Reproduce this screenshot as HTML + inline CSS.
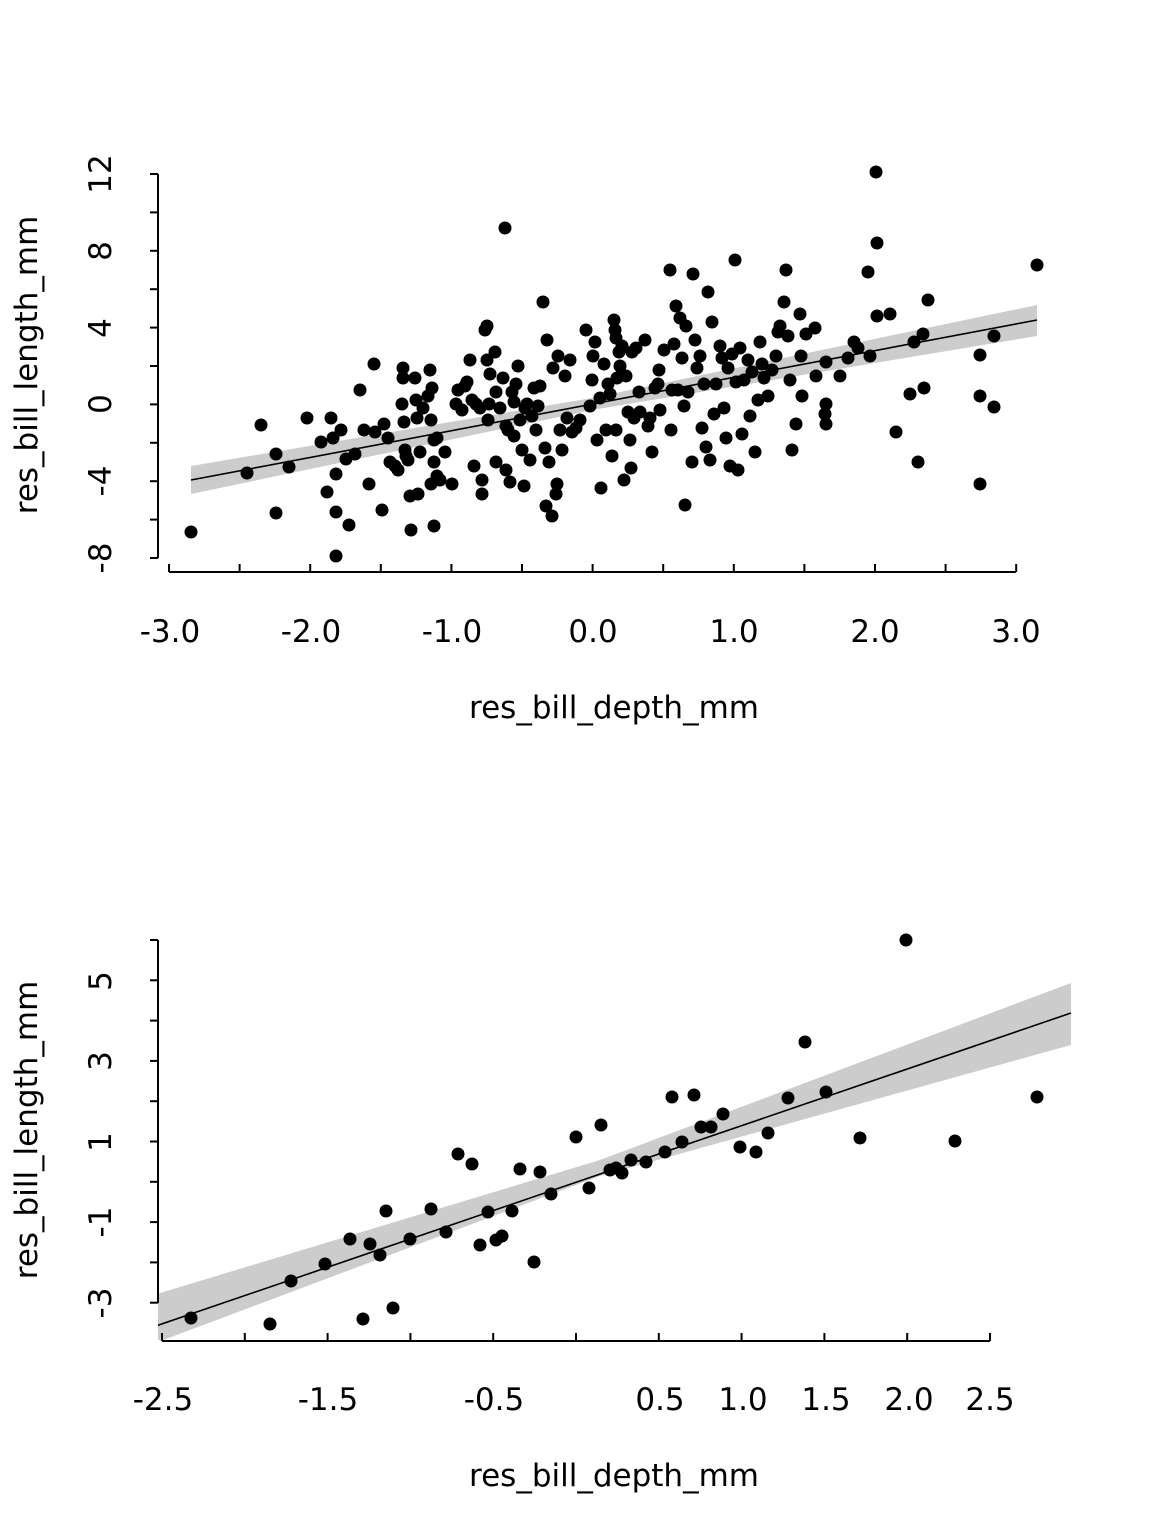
<!DOCTYPE html>
<html><head><meta charset="utf-8"><style>body{margin:0;background:#fff}svg{display:block}</style></head>
<body>
<svg width="1152" height="1536" viewBox="0 0 1152 1536" font-family="DejaVu Sans, sans-serif">
<defs><clipPath id="c2"><rect x="158" y="930" width="920" height="410"/></clipPath></defs>
<polygon points="191,466 592,398 1037,305 1037,336 592,410 191,494" fill="#cccccc"/>
<line x1="191" y1="480" x2="1037" y2="320" stroke="#000" stroke-width="1.6"/>
<g id="top" fill="#000"></g>
<g stroke="#000" stroke-width="2" fill="none">
<line x1="158" y1="174" x2="158" y2="558"/>
<line x1="169" y1="572" x2="1016" y2="572"/>
</g>
<g id="topticks" stroke="#000" stroke-width="2"></g>
<g font-size="31" fill="#000" text-anchor="middle">
<text x="170" y="642">-3.0</text><text x="311" y="642">-2.0</text><text x="452" y="642">-1.0</text><text x="593" y="642">0.0</text><text x="734" y="642">1.0</text><text x="875" y="642">2.0</text><text x="1016" y="642">3.0</text>
<text transform="translate(111,174) rotate(-90)">12</text>
<text transform="translate(111,251) rotate(-90)">8</text>
<text transform="translate(111,328) rotate(-90)">4</text>
<text transform="translate(111,404) rotate(-90)">0</text>
<text transform="translate(111,481) rotate(-90)">-4</text>
<text transform="translate(111,558) rotate(-90)">-8</text>
<text x="614" y="718">res_bill_depth_mm</text>
<text transform="translate(37,365) rotate(-90)">res_bill_length_mm</text>
</g>
<g clip-path="url(#c2)">
<polygon points="150,1296 600,1160 1071,983 1071,1045 600,1176 150,1345" fill="#cccccc"/>
<line x1="150" y1="1328" x2="1071" y2="1013" stroke="#000" stroke-width="1.6"/>
</g>
<g id="bot" fill="#000"></g>
<g stroke="#000" stroke-width="2" fill="none">
<line x1="158" y1="940" x2="158" y2="1303"/>
<line x1="162" y1="1341" x2="990" y2="1341"/>
</g>
<g id="botticks" stroke="#000" stroke-width="2"></g>
<g font-size="31" fill="#000" text-anchor="middle">
<text x="163" y="1410">-2.5</text><text x="328" y="1410">-1.5</text><text x="494" y="1410">-0.5</text><text x="660" y="1410">0.5</text><text x="743" y="1410">1.0</text><text x="826" y="1410">1.5</text><text x="909" y="1410">2.0</text><text x="990" y="1410">2.5</text>
<text transform="translate(111,981) rotate(-90)">5</text>
<text transform="translate(111,1061) rotate(-90)">3</text>
<text transform="translate(111,1142) rotate(-90)">1</text>
<text transform="translate(111,1222) rotate(-90)">-1</text>
<text transform="translate(111,1303) rotate(-90)">-3</text>
<text x="614" y="1486">res_bill_depth_mm</text>
<text transform="translate(37,1130) rotate(-90)">res_bill_length_mm</text>
</g>
</svg>
<script>
var NS="http://www.w3.org/2000/svg";
function dots(id,arr){var g=document.getElementById(id);for(var i=0;i<arr.length;i+=2){var c=document.createElementNS(NS,"circle");c.setAttribute("cx",arr[i]);c.setAttribute("cy",arr[i+1]);c.setAttribute("r","6.5");g.appendChild(c);}}
function tk(id,l){var g=document.getElementById(id);l.forEach(function(a){var e=document.createElementNS(NS,"line");e.setAttribute("x1",a[0]);e.setAttribute("y1",a[1]);e.setAttribute("x2",a[2]);e.setAttribute("y2",a[3]);g.appendChild(e);});}
var t=[];for(var i=0;i<=10;i++){var y=174+i*38.4;t.push([150,y,158,y]);}for(var i=0;i<=12;i++){var x=169+i*70.6;t.push([x,572,x,564]);}tk("topticks",t);
var b=[];for(var i=0;i<=9;i++){var y=940+i*40.3;b.push([150,y,158,y]);}for(var i=0;i<=10;i++){var x=162+i*82.8;b.push([x,1341,x,1333]);}tk("botticks",b);
dots("top",[191,532,247,473,261,425,276,454,276,513,289,467,307,418,321,442,327,492,331,418,333,438,336,512,336,556,336,474,341,430,346,459,349,525,355,454,360,390,364,430,369,484,374,364,375,432,382,510,384,424,388,438,390,462,395,466,398,470,402,404,403,368,403,378,404,422,405,450,406,456,408,460,410,496,411,530,415,378,416,400,417,418,418,494,420,452,423,408,428,396,430,370,431,420,431,484,432,388,434,440,434,526,434,462,437,438,437,476,440,480,445,452,452,484,456,404,458,390,462,410,465,386,467,382,470,360,472,400,474,466,476,404,480,408,482,480,482,494,485,330,487,326,487,360,488,420,489,404,490,374,495,352,496,392,496,462,500,408,503,378,505,228,506,470,506,426,508,430,510,482,512,392,514,402,514,436,516,384,518,366,520,420,522,450,524,486,525,408,527,404,530,460,532,416,534,388,536,430,538,406,540,386,543,302,545,448,546,506,547,340,549,462,552,516,553,368,556,494,557,484,558,356,560,430,562,450,565,376,567,418,570,360,572,432,576,428,580,420,586,330,590,406,592,380,593,356,595,342,597,440,600,398,601,488,604,364,606,430,608,384,610,394,612,456,614,320,615,330,616,430,616,338,617,378,619,352,620,366,622,346,624,480,626,376,628,412,630,440,631,468,632,352,634,418,636,348,639,392,640,412,645,340,648,426,650,418,652,452,655,388,658,384,659,370,660,410,664,350,670,270,671,430,672,390,674,344,676,306,678,390,680,318,682,358,684,406,685,505,686,326,688,392,692,462,693,274,695,340,697,368,700,356,702,428,704,384,706,447,708,292,710,460,712,322,714,414,716,384,720,346,722,358,724,408,726,438,728,368,730,466,732,354,735,260,736,382,738,470,740,348,742,434,744,380,748,360,750,416,752,372,755,452,758,400,760,342,762,364,764,378,768,396,772,370,776,356,778,332,780,326,784,302,786,270,788,336,790,380,792,450,796,424,800,314,801,356,802,396,806,334,815,328,816,376,825,414,826,362,826,404,826,424,840,376,848,358,854,342,858,348,868,272,870,356,876,172,877,243,877,316,890,314,896,432,910,394,914,342,918,462,923,334,924,388,928,300,980,355,980,396,980,484,994,336,994,407,1037,265]);
dots("bot",[191,1318,270,1324,291,1281,325,1264,350,1239,363,1319,370,1244,380,1255,386,1211,393,1308,410,1239,431,1209,446,1232,458,1154,472,1164,480,1245,488,1212,496,1240,502,1236,512,1211,520,1169,534,1262,540,1172,551,1194,576,1137,589,1188,601,1125,610,1170,616,1168,622,1173,631,1160,646,1162,665,1152,672,1097,682,1142,694,1095,701,1127,711,1127,723,1114,740,1147,756,1152,768,1133,788,1098,805,1042,826,1092,860,1138,906,940,955,1141,1037,1097]);
</script>
</body></html>
